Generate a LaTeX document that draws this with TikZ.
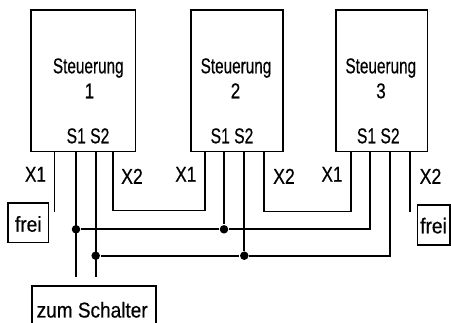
\documentclass[tikz,border=0pt]{standalone}
\usepackage{fontspec}
\setmainfont[FakeBold=0.5]{Liberation Sans}
\usepackage{graphicx}
\newcommand\lf{\fontsize{21.5pt}{26pt}\selectfont}
\newcommand\fw[2]{\resizebox{#1pt}{\height}{#2}}
\newcommand\nd[1]{\scalebox{0.8}[1]{#1}}
\begin{document}
\begin{tikzpicture}[x=1pt,y=-1pt,line width=1.7pt,
  box/.style={draw,inner sep=0pt,anchor=north west},
  lbl/.style={font=\lf,inner sep=0pt,anchor=base},
  dot/.style={circle,fill,inner sep=0pt,minimum size=8.5pt}]
\fill[white] (0,0) rectangle (451,323);
\useasboundingbox (0,0) rectangle (451,323);
% control boxes
\node[box,minimum width=104.7pt,minimum height=141.4pt] (b1) at (30,9.3) {};
\node[box,minimum width=92pt,minimum height=141.4pt] (b2) at (190,9.3) {};
\node[box,minimum width=91.7pt,minimum height=141.4pt] (b3) at (335,9.3) {};
% box texts
\node[lbl] (s1) at (88.3,73.3) {\fw{70.7}{Steuerung}};
\node[lbl] (n1) at (89.5,98.3) {\nd{1}};
\node[lbl] (p1) at (88,143.3) {\fw{42.7}{S1 S2}};
\node[lbl] (s2) at (236,73.3) {\fw{70.7}{Steuerung}};
\node[lbl] (n2) at (235.5,98.3) {\nd{2}};
\node[lbl] (p2) at (232,143.3) {\fw{42.7}{S1 S2}};
\node[lbl] (s3) at (380.8,73.3) {\fw{70.7}{Steuerung}};
\node[lbl] (n3) at (381,98.3) {\nd{3}};
\node[lbl] (p3) at (378.3,143.3) {\fw{42.7}{S1 S2}};
% X labels
\node[lbl] (xa1) at (35.5,181.7) {\fw{21}{X1}};
\node[lbl] (xa2) at (132,183.8) {\fw{21.7}{X2}};
\node[lbl] (xb1) at (185.8,181.7) {\fw{21}{X1}};
\node[lbl] (xb2) at (284,183.8) {\fw{21.7}{X2}};
\node[lbl] (xc1) at (332,181.7) {\fw{21}{X1}};
\node[lbl] (xc2) at (430.5,183.8) {\fw{21.7}{X2}};
% frei boxes and switch box
\node[box,minimum width=40.2pt,minimum height=39.4pt] (f1) at (7.3,202.3) {};
\node[lbl] (ft1) at (f1.center |- 0,231.7) {\fw{26.7}{frei}};
\node[box,minimum width=32.3pt,minimum height=40pt] (f2) at (416.7,204.3) {};
\node[lbl] (ft2) at (433.5,233.3) {\fw{26.7}{frei}};
\node[box,minimum width=124pt,minimum height=45pt] (sw) at (31,285.5) {};
\node[lbl] (swt) at (92.2,317.5) {\fw{111}{zum Schalter}};
% junction dots
\node[dot] (d1) at (76,229.3) {};
\node[dot] (d2) at (95.7,255.7) {};
\node[dot] (d3) at (224,229.3) {};
\node[dot] (d4) at (244.3,255.7) {};
% free ends and corners
\coordinate (ea) at (54.5,212);
\coordinate (eb) at (410,211.7);
\coordinate (es1) at (76,276.7);
\coordinate (es2) at (95.7,276.7);
\coordinate (ua) at (113.3,210.5);
\coordinate (ub) at (204.7,210.5);
\coordinate (va) at (263.7,211.5);
\coordinate (vb) at (350.7,211.5);
\coordinate (c1) at (370,229.3);
\coordinate (c2) at (390.3,255.7);
% wires
\draw (54.5,0 |- b1.south) -- (ea);
\draw (410,0 |- b3.south) -- (eb);
\draw (113.3,0 |- b1.south) -- (ua) -- (ub) -- (204.7,0 |- b2.south);
\draw (263.7,0 |- b2.south) -- (va) -- (vb) -- (350.7,0 |- b3.south);
\draw (76,0 |- b1.south) -- (es1);
\draw (95.7,0 |- b1.south) -- (es2);
\draw (224,0 |- b2.south) -- (d3);
\draw (244.3,0 |- b2.south) -- (d4);
\draw (d1) -- (d3) -- (c1) -- (370,0 |- b3.south);
\draw (d2) -- (d4) -- (c2) -- (390.3,0 |- b3.south);
\end{tikzpicture}
\end{document}
